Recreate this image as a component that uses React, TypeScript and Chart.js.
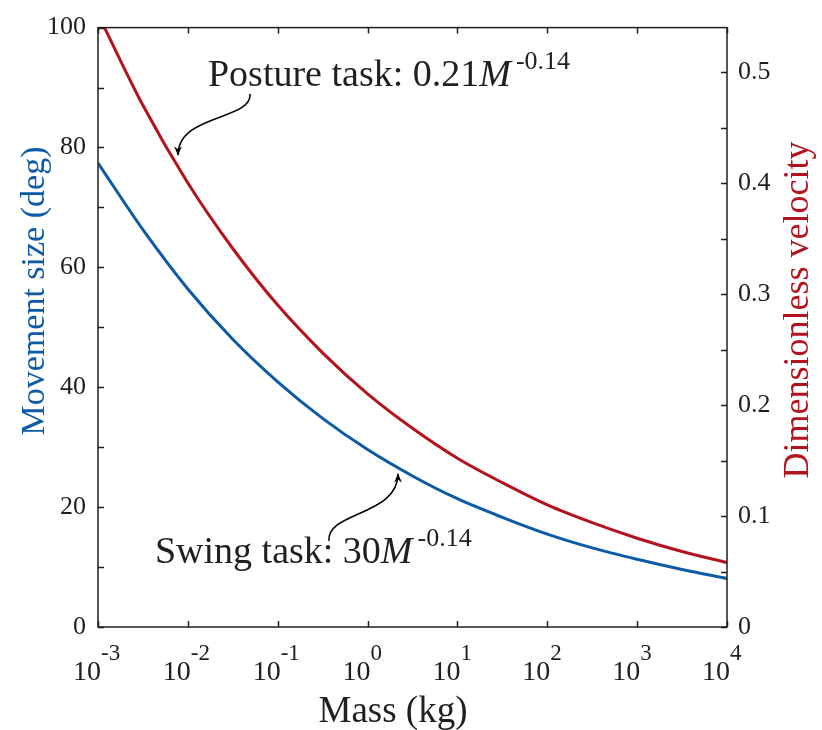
import React, { useEffect, useRef } from 'react';
import { Chart, registerables } from 'chart.js';

Chart.register(...registerables);

// ---- data ----
const MASS_KG = [0.001, 0.00316, 0.01, 0.0316, 0.1, 0.316, 1, 3.16, 10, 31.6, 100, 316, 1000, 3162, 10000];
const MOVEMENT_SIZE_DEG = [77.4, 66.3, 56.4, 48.0, 40.9, 34.8, 29.6, 25.2, 21.4, 18.3, 15.5, 13.2, 11.3, 9.6, 8.1];
const DIMLESS_VELOCITY = [0.552, 0.47, 0.4, 0.341, 0.29, 0.247, 0.21, 0.179, 0.152, 0.13, 0.11, 0.094, 0.08, 0.068, 0.058];

const X_DECADES = [-3, -2, -1, 0, 1, 2, 3, 4];
const LEFT_TICKS = [0, 10, 20, 30, 40, 50, 60, 70, 80, 90, 100];
const RIGHT_TICKS = [0, 0.05, 0.1, 0.15, 0.2, 0.25, 0.3, 0.35, 0.4, 0.45, 0.5];

const X_TITLE = 'Mass (kg)';
const Y_TITLE = 'Movement size (deg)';
const Y1_TITLE = 'Dimensionless velocity';
const POSTURE_LABEL = { main: 'Posture task: 0.21', italic: 'M', sup: '-0.14' };
const SWING_LABEL = { main: 'Swing task: 30', italic: 'M', sup: '-0.14' };

// annotation anchors in data space: [log10(mass), movement size]
const POSTURE_TEXT_AT = [-1.776, 90.26];
const POSTURE_ARROW = [[-1.308, 88.94], [-1.286, 84.49], [-2.11, 85.64], [-2.11, 78.71]];
const SWING_TEXT_AT = [-2.366, 10.73];
const SWING_ARROW = [[-0.43, 14.36], [-0.455, 19.31], [0.339, 18.48], [0.339, 25.58]];

const BLUE = '#0d5aa6';
const RED = '#b3131d';
const INK = '#1f1f1f';
const SERIF = '"Liberation Serif", "DejaVu Serif", serif';

const decorPlugin = {
  id: 'decor',
  afterDraw(chart: any) {
    const { ctx, chartArea } = chart;
    const { left, right, top, bottom } = chartArea;
    const xs = chart.scales.x;
    const ys = chart.scales.y;
    const ys1 = chart.scales.y1;
    const tl = 6;
    ctx.save();
    ctx.strokeStyle = INK;
    ctx.lineWidth = 1.5;
    ctx.beginPath();
    for (const v of LEFT_TICKS) {
      const y = Math.round(ys.getPixelForValue(v)) + 0.5;
      ctx.moveTo(left, y);
      ctx.lineTo(left + tl, y);
    }
    for (const v of RIGHT_TICKS) {
      const y = Math.round(ys1.getPixelForValue(v)) + 0.5;
      ctx.moveTo(right, y);
      ctx.lineTo(right - tl, y);
    }
    for (const d of X_DECADES) {
      const x = Math.round(xs.getPixelForValue(Math.pow(10, d))) + 0.5;
      ctx.moveTo(x, bottom);
      ctx.lineTo(x, bottom - tl);
      ctx.moveTo(x, top);
      ctx.lineTo(x, top + tl);
    }
    ctx.stroke();
    ctx.strokeRect(left, top, right - left, bottom - top);

    // x tick labels 10^d
    ctx.fillStyle = INK;
    ctx.textBaseline = 'alphabetic';
    for (const d of X_DECADES) {
      const x = xs.getPixelForValue(Math.pow(10, d));
      ctx.font = `28px ${SERIF}`;
      ctx.textAlign = 'right';
      ctx.fillText('10', x + 3, bottom + 53);
      ctx.font = `23px ${SERIF}`;
      ctx.textAlign = 'left';
      ctx.fillText(String(d), x + 3, bottom + 33);
    }

    // axis titles
    const rotText = (text: string, x: number, y: number, color: string, size: number) => {
      ctx.save();
      ctx.translate(x, y);
      ctx.rotate(-Math.PI / 2);
      ctx.font = `${size}px ${SERIF}`;
      ctx.fillStyle = color;
      ctx.textAlign = 'center';
      ctx.textBaseline = 'alphabetic';
      ctx.fillText(text, 0, 0);
      ctx.restore();
    };
    rotText(Y_TITLE, 44, 291, BLUE, 34);
    rotText(Y1_TITLE, 808, 310, RED, 36);
    ctx.font = `37px ${SERIF}`;
    ctx.fillStyle = INK;
    ctx.textAlign = 'center';
    ctx.textBaseline = 'alphabetic';
    ctx.fillText(X_TITLE, 393, 722);

    const px = (p: number[]) => [xs.getPixelForValue(Math.pow(10, p[0])), ys.getPixelForValue(p[1])];

    const drawLabel = (lab: any, at: number[]) => {
      const [x0, y0] = px(at);
      ctx.fillStyle = INK;
      ctx.textAlign = 'left';
      ctx.textBaseline = 'alphabetic';
      ctx.font = `38px ${SERIF}`;
      ctx.fillText(lab.main, x0, y0);
      let x = x0 + ctx.measureText(lab.main).width;
      ctx.font = `italic 38px ${SERIF}`;
      ctx.fillText(lab.italic, x, y0);
      x += ctx.measureText(lab.italic).width + 5;
      ctx.font = `26px ${SERIF}`;
      ctx.fillText(lab.sup, x, y0 - 17);
    };

    const drawArrow = (pts: number[][]) => {
      const p = pts.map(px);
      ctx.strokeStyle = '#000';
      ctx.fillStyle = '#000';
      ctx.lineWidth = 1.6;
      ctx.beginPath();
      ctx.moveTo(p[0][0], p[0][1]);
      ctx.bezierCurveTo(p[1][0], p[1][1], p[2][0], p[2][1], p[3][0], p[3][1]);
      ctx.stroke();
      const ang = Math.atan2(p[3][1] - p[2][1], p[3][0] - p[2][0]);
      const L = 9, W = 4;
      const tx = p[3][0], ty = p[3][1];
      const bx = tx - L * Math.cos(ang), by = ty - L * Math.sin(ang);
      ctx.beginPath();
      ctx.moveTo(tx, ty);
      ctx.lineTo(bx + W * Math.sin(ang), by - W * Math.cos(ang));
      ctx.lineTo(bx + 0.35 * L * Math.cos(ang), by + 0.35 * L * Math.sin(ang));
      ctx.lineTo(bx - W * Math.sin(ang), by + W * Math.cos(ang));
      ctx.closePath();
      ctx.fill();
    };

    drawLabel(POSTURE_LABEL, POSTURE_TEXT_AT);
    drawLabel(SWING_LABEL, SWING_TEXT_AT);
    drawArrow(POSTURE_ARROW);
    drawArrow(SWING_ARROW);
    ctx.restore();
  },
};

export default function App() {
  const ref = useRef<HTMLCanvasElement | null>(null);
  useEffect(() => {
    document.body.style.margin = '0';
    const canvas = ref.current;
    if (!canvas) return;
    Chart.defaults.font.family = SERIF;
    const chart = new Chart(canvas, {
      type: 'line',
      data: {
        datasets: [
          {
            label: 'Movement size',
            data: MASS_KG.map((m, i) => ({ x: m, y: MOVEMENT_SIZE_DEG[i] })),
            borderColor: BLUE,
            borderWidth: 3,
            pointRadius: 0,
            cubicInterpolationMode: 'monotone',
            yAxisID: 'y',
            clip: 0,
          },
          {
            label: 'Dimensionless velocity',
            data: MASS_KG.map((m, i) => ({ x: m, y: DIMLESS_VELOCITY[i] })),
            borderColor: RED,
            borderWidth: 3,
            pointRadius: 0,
            cubicInterpolationMode: 'monotone',
            yAxisID: 'y1',
            clip: 0,
          },
        ],
      },
      options: {
        responsive: false,
        animation: false,
        layout: { padding: { top: 21, left: 0, right: 0, bottom: 0 } },
        plugins: { legend: { display: false }, tooltip: { enabled: false } },
        scales: {
          x: {
            type: 'logarithmic',
            min: 0.001,
            max: 10000,
            ticks: { display: false },
            grid: { display: false, drawTicks: false },
            border: { display: false },
            afterFit: (s: any) => { s.height = 103; },
          },
          y: {
            type: 'linear',
            position: 'left',
            min: 0,
            max: 100,
            ticks: { stepSize: 20, padding: 12, color: INK, font: { family: SERIF, size: 26 } },
            grid: { display: false, drawTicks: false },
            border: { display: false },
            afterFit: (s: any) => { s.width = 98; },
          },
          y1: {
            type: 'linear',
            position: 'right',
            min: 0,
            max: 0.54,
            ticks: {
              stepSize: 0.1,
              includeBounds: false,
              padding: 11,
              color: INK,
              font: { family: SERIF, size: 26 },
              callback: (v: any) => (Number(v) === 0 ? '0' : Number(v).toFixed(1)),
            },
            grid: { display: false, drawTicks: false },
            border: { display: false },
            afterFit: (s: any) => { s.width = 95; },
          },
        },
      },
      plugins: [decorPlugin],
    });
    return () => chart.destroy();
  }, []);
  return (
    <div>
      <canvas ref={ref} width={822} height={730} style={{ display: 'block', width: 822, height: 730 }} />
    </div>
  );
}
